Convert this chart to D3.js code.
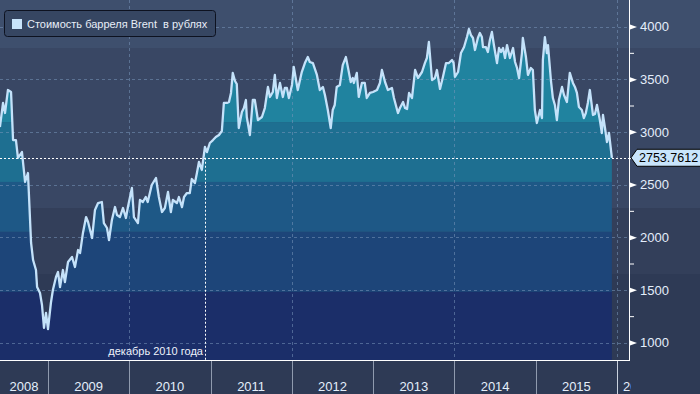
<!DOCTYPE html>
<html>
<head>
<meta charset="utf-8">
<script src="https://cdn.jsdelivr.net/npm/d3@7"></script>
<style>
body { margin: 0; background: #2e3a55; }
text { font-family: "Liberation Sans", Arial, sans-serif; }
</style>
</head>
<body>
<svg id="chart" width="700" height="394"></svg>
<script>
var dates = [
  "2008-05-30","2008-06-13","2008-06-22","2008-07-05","2008-07-19","2008-07-28","2008-08-10","2008-08-19","2008-09-06","2008-09-20",
  "2008-10-03","2008-10-17","2008-10-26","2008-11-08","2008-11-13","2008-11-26","2008-12-05","2008-12-14","2008-12-23","2009-01-01",
  "2009-01-14","2009-01-23","2009-02-06","2009-02-15","2009-02-24","2009-03-09","2009-03-18","2009-04-01","2009-04-19","2009-05-02",
  "2009-05-16","2009-05-25","2009-06-07","2009-06-21","2009-06-30","2009-07-18","2009-07-31","2009-08-14","2009-08-31","2009-09-09",
  "2009-09-23","2009-10-02","2009-10-15","2009-10-29","2009-11-07","2009-11-20","2009-12-04","2009-12-17","2009-12-26","2010-01-13",
  "2010-01-22","2010-02-09","2010-02-18","2010-03-03","2010-03-16","2010-03-25","2010-04-12","2010-05-01","2010-05-14","2010-05-28",
  "2010-06-10","2010-06-24","2010-07-07","2010-07-16","2010-08-03","2010-08-12","2010-08-26","2010-09-04","2010-09-17","2010-09-30",
  "2010-10-09","2010-10-23","2010-11-01","2010-11-10","2010-11-23","2010-12-07","2010-12-16","2010-12-29","2011-01-12","2011-01-25",
  "2011-02-08","2011-02-21","2011-03-02","2011-03-16","2011-03-25","2011-04-03","2011-04-11","2011-04-21","2011-04-29","2011-05-08",
  "2011-05-22","2011-05-31","2011-06-09","2011-06-13","2011-06-27","2011-07-10","2011-07-19","2011-08-02","2011-08-20","2011-09-02",
  "2011-09-16","2011-09-25","2011-10-08","2011-10-17","2011-10-26","2011-11-09","2011-11-22","2011-12-01","2011-12-10","2011-12-19",
  "2012-01-02","2012-01-10","2012-01-24","2012-01-28","2012-02-15","2012-02-29","2012-03-13","2012-03-22","2012-04-05","2012-04-23",
  "2012-05-06","2012-05-20","2012-05-29","2012-06-11","2012-06-24","2012-07-03","2012-07-12","2012-07-21","2012-08-04","2012-08-17",
  "2012-08-31","2012-09-09","2012-09-22","2012-10-01","2012-10-06","2012-10-19","2012-10-28","2012-11-11","2012-11-24","2012-12-03",
  "2012-12-17","2012-12-31","2013-01-18","2013-01-31","2013-02-09","2013-02-23","2013-03-08","2013-03-26","2013-04-04","2013-04-22",
  "2013-05-01","2013-05-15","2013-05-24","2013-06-02","2013-06-11","2013-06-24","2013-07-08","2013-07-21","2013-08-08","2013-08-21",
  "2013-08-30","2013-09-08","2013-09-22","2013-10-05","2013-10-14","2013-10-28","2013-11-10","2013-11-24","2013-12-07","2013-12-21",
  "2013-12-28","2014-01-03","2014-01-17","2014-01-30","2014-02-13","2014-02-26","2014-03-07","2014-03-16","2014-03-25","2014-04-03",
  "2014-04-16","2014-04-25","2014-05-04","2014-05-09","2014-05-22","2014-05-31","2014-06-09","2014-06-18","2014-06-27","2014-07-11",
  "2014-07-20","2014-07-29","2014-08-07","2014-08-16","2014-08-25","2014-09-07","2014-09-21","2014-09-30","2014-10-09","2014-10-18",
  "2014-10-31","2014-11-04","2014-11-18","2014-11-27","2014-12-10","2014-12-19","2014-12-28","2015-01-06","2015-01-20","2015-01-29",
  "2015-02-02","2015-02-11","2015-02-20","2015-02-25","2015-03-10","2015-03-19","2015-03-28","2015-04-06","2015-04-15","2015-04-29",
  "2015-05-08","2015-05-21","2015-06-03","2015-06-17","2015-06-26","2015-07-05","2015-07-14","2015-07-27","2015-08-05","2015-08-14",
  "2015-08-23","2015-09-01","2015-09-15","2015-09-24","2015-10-03","2015-10-16","2015-10-25","2015-10-30","2015-11-08","2015-11-17",
  "2015-11-26","2015-12-09"
];

var values = [
  3046,3274,3179,3397,3378,2922,2922,2752,2808,2524,
  2609,1945,1783,1688,1527,1470,1356,1138,1280,1128,
  1375,1498,1622,1669,1527,1688,1574,1764,1812,1717,
  1878,1850,2040,2191,2144,1992,2258,2324,2334,2134,
  2087,1973,2163,2286,2210,2191,2277,2182,2286,2467,
  2191,2134,2353,2334,2381,2334,2495,2562,2381,2239,
  2277,2429,2239,2353,2324,2381,2286,2381,2419,2419,
  2552,2514,2609,2714,2638,2856,2808,2894,2922,2951,
  2970,3008,3274,3274,3283,3369,3559,3483,3454,3036,
  3188,3226,3302,3141,2970,3302,3302,3112,3141,3226,
  3426,3331,3378,3540,3321,3464,3331,3416,3416,3321,
  3445,3616,3445,3397,3568,3653,3710,3663,3653,3540,
  3397,3426,3350,3207,3036,3207,3255,3426,3445,3634,
  3710,3616,3473,3511,3464,3559,3331,3464,3464,3321,
  3369,3378,3397,3464,3587,3473,3397,3416,3321,3179,
  3226,3283,3226,3217,3369,3321,3587,3511,3568,3653,
  3701,3853,3492,3511,3587,3407,3521,3653,3653,3682,
  3653,3521,3568,3748,3805,3900,3976,3919,3891,3777,
  3891,3938,3900,3805,3805,3758,3872,3948,3824,3653,
  3796,3758,3796,3701,3824,3701,3796,3663,3606,3511,
  3748,3891,3710,3540,3606,3587,3207,3084,3207,3131,
  3682,3900,3748,3824,3492,3321,3255,3112,3302,3426,
  3350,3283,3559,3464,3426,3369,3236,3207,3131,3179,
  3274,3397,3160,3169,3255,3112,2989,3160,3036,2903,
  2989,2753.7612
];

var yearLabels = ["2008", "2009", "2010", "2011", "2012", "2013", "2014", "2015", "2016"];
var yTicks = [1000, 1500, 2000, 2500, 3000, 3500, 4000];
var yMinorTicks = [1250, 1750, 2250, 2750, 3250, 3750];
var gridYears = ["2010", "2012", "2014", "2016"];
var legendLabel = "Стоимость барреля Brent  в рублях";
var lastLabel = "2753.7612";
var noteLabel = "декабрь 2010 года";
var noteDate = "2010-12-07";

var parseDate = d3.timeParse("%Y-%m-%d");
var data = dates.map(function(d, i) { return { date: parseDate(d), value: values[i] }; });
var lastPoint = data[data.length - 1];

var svg = d3.select("#chart");
var W = 700, H = 394;
var plotRight = 629, plotBottom = 360;

var x = d3.scaleTime()
    .domain([new Date(2009, 0, 1), new Date(2016, 0, 1)])
    .range([48, 617]);

var y = d3.scaleLinear()
    .domain([1000, 4000])
    .range([342.5, 26.5]);

// background stripes
var bgBands = [[0, 48, "#3e4f6d"], [48, 208, "#394764"], [208, 274, "#333f5a"], [274, H, "#2e3a55"]];
svg.selectAll(".bg")
  .data(bgBands)
  .enter().append("rect")
    .attr("class", "bg")
    .attr("x", 0)
    .attr("y", d => d[0])
    .attr("width", W)
    .attr("height", d => d[1] - d[0])
    .attr("fill", d => d[2]);

var area = d3.area()
    .x(d => x(d.date))
    .y0(plotBottom)
    .y1(d => y(d.value));

var line = d3.line()
    .x(d => x(d.date))
    .y(d => y(d.value));

svg.append("clipPath")
    .attr("id", "areaClip")
  .append("path")
    .attr("d", area(data));

// fill colour steps by level
var fillBands = [[5000, 3093, "#20839f"], [3093, 2524, "#1e6f91"], [2524, 2050, "#1e5886"], [2050, 1480, "#1d4579"], [1480, 0, "#1b2e69"]];
svg.append("g")
    .attr("clip-path", "url(#areaClip)")
  .selectAll("rect")
  .data(fillBands)
  .enter().append("rect")
    .attr("x", 0)
    .attr("width", plotRight)
    .attr("y", d => Math.max(0, y(d[0])))
    .attr("height", d => Math.min(plotBottom, y(d[1])) - Math.max(0, y(d[0])))
    .attr("fill", d => d[2]);

// grid
var grid = svg.append("g")
    .attr("stroke", "rgba(120,150,185,0.55)")
    .attr("stroke-dasharray", "3,3")
    .attr("stroke-width", 1);

grid.selectAll(".hg")
  .data(yTicks)
  .enter().append("line")
    .attr("x1", 0).attr("x2", plotRight)
    .attr("y1", d => Math.round(y(d)) + 0.5)
    .attr("y2", d => Math.round(y(d)) + 0.5);

grid.selectAll(".vg")
  .data(gridYears)
  .enter().append("line")
    .attr("x1", d => Math.round(x(new Date(+d, 0, 1))) + 0.5)
    .attr("x2", d => Math.round(x(new Date(+d, 0, 1))) + 0.5)
    .attr("y1", 0).attr("y2", plotBottom);

svg.append("path")
    .attr("d", line(data))
    .attr("fill", "none")
    .attr("stroke", "#c4e2fa")
    .attr("stroke-width", 2.3)
    .attr("stroke-linejoin", "round");

// dotted annotation lines
var yLast = y(lastPoint.value);
var xNote = x(parseDate(noteDate));
svg.append("line")
    .attr("x1", 0).attr("x2", plotRight)
    .attr("y1", Math.round(yLast) + 0.5).attr("y2", Math.round(yLast) + 0.5)
    .attr("stroke", "#fff")
    .attr("stroke-dasharray", "2,2");

svg.append("line")
    .attr("x1", Math.round(xNote) + 0.5).attr("x2", Math.round(xNote) + 0.5)
    .attr("y1", yLast).attr("y2", plotBottom)
    .attr("stroke", "#fff")
    .attr("stroke-dasharray", "2,2");

svg.append("text")
    .attr("x", xNote - 2)
    .attr("y", 355)
    .attr("text-anchor", "end")
    .attr("font-size", 11)
    .attr("fill", "#eef3fc")
    .text(noteLabel);

// axis frame
svg.append("line")
    .attr("x1", plotRight + 0.5).attr("x2", plotRight + 0.5)
    .attr("y1", 0).attr("y2", plotBottom + 1)
    .attr("stroke", "#fff");
svg.append("line")
    .attr("x1", 0).attr("x2", plotRight + 1)
    .attr("y1", plotBottom + 0.5).attr("y2", plotBottom + 0.5)
    .attr("stroke", "#fff");

// right axis
var yAxis = svg.append("g")
    .attr("transform", "translate(" + (plotRight + 1) + ",0)")
    .call(d3.axisRight(y).tickValues(yTicks).tickSize(0).tickPadding(10).tickFormat(d3.format("d")));
yAxis.select(".domain").remove();
yAxis.selectAll("text")
    .attr("font-size", 13)
    .attr("font-family", "Liberation Sans, Arial, sans-serif")
    .attr("fill", "#e4eefb");
yAxis.selectAll(".tick").append("path")
    .attr("d", "M0,-2.5L7,0L0,2.5Z")
    .attr("fill", "#fff");

var yMinor = svg.append("g")
    .attr("transform", "translate(" + (plotRight + 1) + ",0)")
    .call(d3.axisRight(y).tickValues(yMinorTicks).tickSize(4).tickFormat(""));
yMinor.select(".domain").remove();
yMinor.selectAll("line").attr("stroke", "#fff");

// value tag
var tag = svg.append("g")
    .attr("transform", "translate(" + (plotRight + 2) + "," + yLast + ")");
tag.append("path")
    .attr("d", "M0,0L6,-8.5L72,-8.5L72,8.5L6,8.5Z")
    .attr("fill", "#c8e4fb")
    .attr("stroke", "#000");
tag.append("text")
    .attr("x", 8)
    .attr("y", 4.5)
    .attr("font-size", 12.5)
    .attr("fill", "#000")
    .text(lastLabel);

// bottom year band
var years = yearLabels.map(function(d) { return +d; });
svg.selectAll(".ysep")
  .data(years.slice(1))
  .enter().append("line")
    .attr("x1", d => Math.round(x(new Date(d, 0, 1))) + 0.5)
    .attr("x2", d => Math.round(x(new Date(d, 0, 1))) + 0.5)
    .attr("y1", plotBottom + 1).attr("y2", H)
    .attr("stroke", d => d == 2016 ? "#c9d1de" : "#8f9aae");

svg.append("clipPath")
    .attr("id", "yearClip")
  .append("rect")
    .attr("x", 0).attr("y", plotBottom).attr("width", plotRight + 2).attr("height", H - plotBottom);

svg.append("g")
    .attr("clip-path", "url(#yearClip)")
  .selectAll("text")
  .data(yearLabels)
  .enter().append("text")
    .attr("x", function(d) {
      var a = Math.max(0, x(new Date(+d, 0, 1)));
      var b = x(new Date(+d + 1, 0, 1));
      return b > plotRight ? a + 6 : (a + b) / 2;
    })
    .attr("text-anchor", d => x(new Date(+d + 1, 0, 1)) > plotRight ? "start" : "middle")
    .attr("y", 391)
    .attr("font-size", 13)
    .attr("fill", "#e4eefb")
    .text(d => d);

// legend
var legend = svg.append("g");
legend.append("rect")
    .attr("x", 4.5).attr("y", 10.5)
    .attr("width", 211).attr("height", 26)
    .attr("rx", 3)
    .attr("fill", "#364662")
    .attr("stroke", "#0d1220");
legend.append("rect")
    .attr("x", 12).attr("y", 19)
    .attr("width", 10).attr("height", 10)
    .attr("fill", "#c8e4fb");
legend.append("text")
    .attr("x", 27).attr("y", 28)
    .attr("font-size", 11)
    .attr("fill", "#e8eef8")
    .style("white-space", "pre")
    .text(legendLabel);
</script>
</body>
</html>
